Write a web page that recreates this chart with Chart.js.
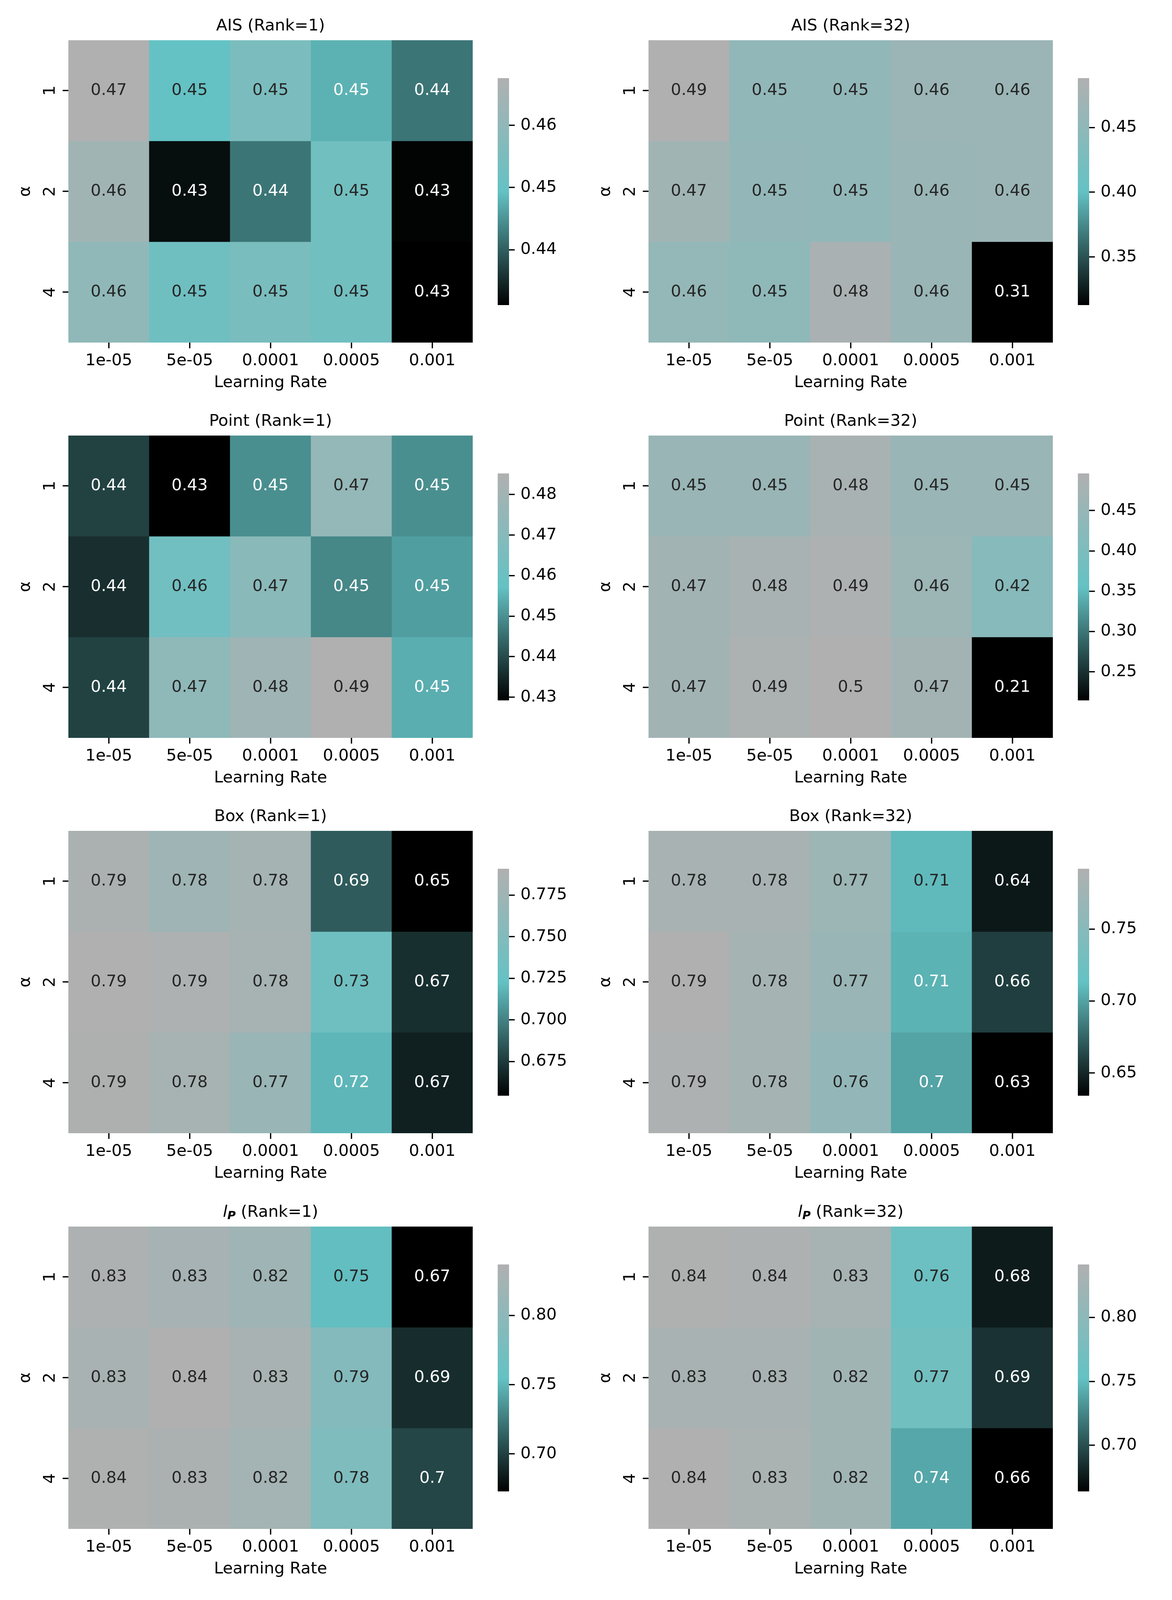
<!DOCTYPE html>
<html>
<head>
<meta charset="utf-8">
<script src="https://cdn.jsdelivr.net/npm/chart.js@4.4.0/dist/chart.umd.min.js"></script>
<style>
  body { margin: 0; background: #fff; }
  #fig { position: relative; width: 3000px; height: 5100px; background: #fff; overflow: hidden; }
  #fig canvas { position: absolute; }
</style>
</head>
<body>
<div id="fig"></div>
<script>
// axis categories
const learningRates = ['1e-05', '5e-05', '0.0001', '0.0005', '0.001'];
const alphas = ['1', '2', '4'];
const metrics = ['AIS', 'Point', 'Box', 'l_P', 'l_B'];
const ranks = [1, 32];

// heatmap values, rows = alpha, cols = learning rate
const aisRank1 = [
  [0.4676, 0.4494, 0.4548, 0.4478, 0.4421],
  [0.4640, 0.4324, 0.4421, 0.4526, 0.4315],
  [0.4599, 0.4519, 0.4545, 0.4526, 0.4311]
];
const aisRank32 = [
  [0.4882, 0.4531, 0.4531, 0.4640, 0.4640],
  [0.4707, 0.4549, 0.4531, 0.4619, 0.4640],
  [0.4558, 0.4496, 0.4812, 0.4619, 0.3128]
];
const pointRank1 = [
  [0.4387, 0.4292, 0.4498, 0.4749, 0.4498],
  [0.4359, 0.4621, 0.4713, 0.4487, 0.4520],
  [0.4387, 0.4732, 0.4788, 0.4852, 0.4543]
];
const pointRank32 = [
  [0.4539, 0.4539, 0.4834, 0.4539, 0.4539],
  [0.4700, 0.4810, 0.4917, 0.4595, 0.4201],
  [0.4705, 0.4895, 0.4961, 0.4720, 0.2145]
];
const boxRank1 = [
  [0.7860, 0.7755, 0.7812, 0.6865, 0.6544],
  [0.7908, 0.7880, 0.7826, 0.7322, 0.6708],
  [0.7894, 0.7826, 0.7703, 0.7185, 0.6655]
];
const boxRank32 = [
  [0.7831, 0.7840, 0.7713, 0.7099, 0.6440],
  [0.7918, 0.7808, 0.7682, 0.7068, 0.6595],
  [0.7894, 0.7800, 0.7619, 0.7005, 0.6343]
];
const lpRank1 = [
  [0.8345, 0.8260, 0.8188, 0.7530, 0.6729],
  [0.8278, 0.8368, 0.8295, 0.7893, 0.6917],
  [0.8360, 0.8310, 0.8237, 0.7843, 0.7024]
];
const lpRank32 = [
  [0.8400, 0.8375, 0.8308, 0.7616, 0.6764],
  [0.8316, 0.8316, 0.8237, 0.7687, 0.6870],
  [0.8414, 0.8340, 0.8237, 0.7403, 0.6640]
];
const lbRank1 = [
  [0.8670, 0.8508, 0.8585, 0.7892, 0.7136],
  [0.8678, 0.8678, 0.8593, 0.8246, 0.7259],
  [0.8585, 0.8632, 0.8485, 0.8084, 0.7414]
];
const lbRank32 = [
  [0.8733, 0.8713, 0.8545, 0.7893, 0.7233],
  [0.8545, 0.8643, 0.8545, 0.8028, 0.7332],
  [0.8720, 0.8688, 0.8440, 0.8035, 0.7555]
];

// colorbar tick labels
const cbAisRank1 = ['0.44', '0.45', '0.46'];
const cbAisRank32 = ['0.35', '0.40', '0.45'];
const cbPointRank1 = ['0.43', '0.44', '0.45', '0.46', '0.47', '0.48'];
const cbPointRank32 = ['0.25', '0.30', '0.35', '0.40', '0.45'];
const cbBoxRank1 = ['0.675', '0.700', '0.725', '0.750', '0.775'];
const cbBoxRank32 = ['0.65', '0.70', '0.75'];
const cbLpRank1 = ['0.70', '0.75', '0.80'];
const cbLpRank32 = ['0.70', '0.75', '0.80'];
const cbLbRank1 = ['0.75', '0.80', '0.85'];
const cbLbRank32 = ['0.75', '0.80', '0.85'];

const panelValues = [
  [aisRank1, aisRank32], [pointRank1, pointRank32], [boxRank1, boxRank32],
  [lpRank1, lpRank32], [lbRank1, lbRank32]
];
const panelTicks = [
  [cbAisRank1, cbAisRank32], [cbPointRank1, cbPointRank32], [cbBoxRank1, cbBoxRank32],
  [cbLpRank1, cbLpRank32], [cbLbRank1, cbLbRank32]
];

// layout (px)
const FONT = 'DejaVu Sans';
const FS = 41.67;
const ROW_TOP = [103, 1115, 2127, 3140, 4152];
const HM_LEFT = [175, 1660];
const HM_W = 1035, HM_H = 774;
const CB_LEFT = [1274, 2759];
const CB_W = 29, CB_H = 581, CB_OFF = 96.5;
const M_L = 175, M_T = 103, M_R = 20, M_B = 150;
const CB_PAD = 40, CB_AXIS_W = 200;
const TICK_LEN = 14.6, TICK_W = 3.33;

Chart.defaults.font.family = FONT;
Chart.defaults.font.size = FS;
Chart.defaults.color = '#000';

const cmapStops = [[0, 0, 0], [100, 194, 196], [176, 176, 176]];

function cmap(t) {
  t = Math.max(0, Math.min(1, t));
  const s = t < 0.5 ? 0 : 1;
  const f = t < 0.5 ? t * 2 : (t - 0.5) * 2;
  const a = cmapStops[s], b = cmapStops[s + 1];
  return a.map((v, k) => Math.round(v + (b[k] - v) * f));
}

function rgbStr(c) { return 'rgb(' + c.join(',') + ')'; }

function luminance(c) {
  const lin = c.map(v => {
    v = v / 255;
    return v <= 0.03928 ? v / 12.92 : Math.pow((v + 0.055) / 1.055, 2.4);
  });
  return 0.2126 * lin[0] + 0.7152 * lin[1] + 0.0722 * lin[2];
}

function fmt2g(v) { return String(Number(v.toPrecision(2))); }

function titleParts(metric, rank) {
  const tail = ' (Rank=' + rank + ')';
  if (metric.startsWith('l_')) {
    return [
      { text: 'l', font: 'italic ' + FS + 'px "' + FONT + '"', dy: 0 },
      { text: metric.slice(2), font: 'italic bold ' + (FS * 0.7) + 'px "' + FONT + '"', dy: 6 },
      { text: tail, font: FS + 'px "' + FONT + '"', dy: 0 }
    ];
  }
  return [{ text: metric + tail, font: FS + 'px "' + FONT + '"', dy: 0 }];
}

const fig = document.getElementById('fig');

function addCanvas(left, top, w, h) {
  const cv = document.createElement('canvas');
  cv.width = w; cv.height = h;
  cv.style.left = left + 'px';
  cv.style.top = top + 'px';
  cv.style.width = w + 'px';
  cv.style.height = h + 'px';
  fig.appendChild(cv);
  return cv;
}

function textPlugin(values, colors, title) {
  return {
    id: 'heatText',
    afterDraw(chart) {
      const ctx = chart.ctx;
      const area = chart.chartArea;
      ctx.save();
      // cell annotations
      ctx.font = FS + 'px "' + FONT + '"';
      ctx.textAlign = 'center';
      ctx.textBaseline = 'alphabetic';
      values.forEach((row, i) => {
        const meta = chart.getDatasetMeta(i);
        row.forEach((v, j) => {
          const el = meta.data[j];
          const cy = (el.y + el.base) / 2;
          ctx.fillStyle = luminance(colors[i][j]) > 0.408 ? '#262626' : '#ffffff';
          ctx.fillText(fmt2g(v), el.x, cy + 10.7);
        });
      });
      // rotated y tick labels
      ctx.fillStyle = '#000';
      const ys = chart.scales.y;
      alphas.forEach((a, i) => {
        ctx.save();
        ctx.translate(area.left - 35, ys.getPixelForValue(i + 0.5));
        ctx.rotate(-Math.PI / 2);
        ctx.fillText(a, 0, 0);
        ctx.restore();
      });
      // panel title
      ctx.textAlign = 'left';
      let total = 0;
      title.forEach(p => { ctx.font = p.font; p.w = ctx.measureText(p.text).width; total += p.w; });
      let x = (area.left + area.right) / 2 - total / 2;
      title.forEach(p => {
        ctx.font = p.font;
        ctx.fillText(p.text, x, area.top - 25 + p.dy);
        x += p.w;
      });
      ctx.restore();
    }
  };
}

function buildHeatmap(r, c) {
  const values = panelValues[r][c];
  const flat = values.flat();
  const vmin = Math.min(...flat), vmax = Math.max(...flat);
  const colors = values.map(row => row.map(v => cmap((v - vmin) / (vmax - vmin))));
  const cv = addCanvas(HM_LEFT[c] - M_L, ROW_TOP[r] - M_T, M_L + HM_W + M_R, M_T + HM_H + M_B);

  new Chart(cv, {
    type: 'bar',
    data: {
      labels: learningRates,
      datasets: alphas.map((a, i) => ({
        label: a,
        data: values[i].map(() => [i, i + 1]),
        backgroundColor: colors[i].map(rgbStr),
        borderWidth: 0,
        barPercentage: 1,
        categoryPercentage: 1,
        grouped: false
      }))
    },
    options: {
      animation: false,
      responsive: false,
      devicePixelRatio: 1,
      events: [],
      layout: { padding: { left: 0, top: M_T, right: M_R, bottom: 0 } },
      plugins: { legend: { display: false }, tooltip: { enabled: false } },
      scales: {
        x: {
          type: 'category',
          offset: true,
          grid: { offset: false, drawOnChartArea: false, drawTicks: true, tickLength: TICK_LEN, lineWidth: TICK_W, color: '#000' },
          border: { display: false },
          ticks: { padding: 7.3, color: '#000', autoSkip: false, maxRotation: 0, minRotation: 0 },
          title: { display: true, text: 'Learning Rate', color: '#000', padding: { top: 0, bottom: 21.6 } },
          afterFit: s => { s.height = M_B; }
        },
        y: {
          type: 'linear',
          min: 0,
          max: 3,
          reverse: true,
          grid: { drawOnChartArea: false, drawTicks: true, tickLength: TICK_LEN, lineWidth: TICK_W, color: '#000' },
          border: { display: false },
          ticks: { display: false },
          afterBuildTicks: s => { s.ticks = alphas.map((a, i) => ({ value: i + 0.5 })); },
          title: { display: true, text: 'α', color: '#000', padding: { top: 40, bottom: 0 } },
          afterFit: s => { s.width = M_L; }
        }
      }
    },
    plugins: [textPlugin(values, colors, titleParts(metrics[r], ranks[c]))]
  });

  buildColorbar(r, c, vmin, vmax);
}

function buildColorbar(r, c, vmin, vmax) {
  const labels = panelTicks[r][c];
  const tickVals = labels.map(Number);
  const cv = addCanvas(CB_LEFT[c], ROW_TOP[r] + CB_OFF - CB_PAD, CB_W + CB_AXIS_W, CB_H + 2 * CB_PAD);

  new Chart(cv, {
    type: 'bar',
    data: {
      labels: [''],
      datasets: [{
        data: [[vmin, vmax]],
        backgroundColor: ctx => {
          const chart = ctx.chart;
          const ys = chart.scales.y;
          if (!chart.chartArea || !ys) return rgbStr(cmapStops[1]);
          const g = chart.ctx.createLinearGradient(0, ys.getPixelForValue(vmin), 0, ys.getPixelForValue(vmax));
          cmapStops.forEach((s, k) => g.addColorStop(k / (cmapStops.length - 1), rgbStr(s)));
          return g;
        },
        borderWidth: 0,
        barPercentage: 1,
        categoryPercentage: 1
      }]
    },
    options: {
      animation: false,
      responsive: false,
      devicePixelRatio: 1,
      events: [],
      layout: { padding: { left: 0, right: 0, top: CB_PAD, bottom: CB_PAD } },
      plugins: { legend: { display: false }, tooltip: { enabled: false } },
      scales: {
        x: { display: false, offset: true },
        y: {
          position: 'right',
          min: vmin,
          max: vmax,
          grid: { drawOnChartArea: false, drawTicks: true, tickLength: TICK_LEN, lineWidth: TICK_W, color: '#000' },
          border: { display: false },
          ticks: { padding: TICK_LEN, color: '#000', callback: (v, i) => labels[i] },
          afterBuildTicks: s => { s.ticks = tickVals.map(v => ({ value: v })); },
          afterFit: s => { s.width = CB_AXIS_W; }
        }
      }
    }
  });
}

for (let r = 0; r < metrics.length; r++) {
  for (let c = 0; c < ranks.length; c++) {
    buildHeatmap(r, c);
  }
}
</script>
</body>
</html>
